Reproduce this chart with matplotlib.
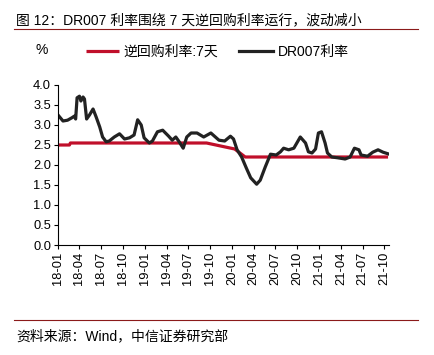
import pandas as pd
import numpy as np
import matplotlib.pyplot as plt
from matplotlib.lines import Line2D

plt.rcParams['font.family'] = ['Liberation Sans', 'Noto Sans CJK SC', 'DejaVu Sans']

# DR007 rate (%)
dr_dates = [
    "2018-01-01", "2018-01-22", "2018-02-10", "2018-02-28", "2018-03-10", "2018-03-16",
    "2018-03-22", "2018-04-01", "2018-04-07", "2018-04-16", "2018-04-22", "2018-05-01",
    "2018-05-13", "2018-05-28", "2018-06-10", "2018-06-25", "2018-07-07", "2018-07-22",
    "2018-08-04", "2018-08-25", "2018-09-16", "2018-10-07", "2018-10-28", "2018-11-16",
    "2018-12-01", "2018-12-16", "2018-12-28", "2019-01-19", "2019-02-01", "2019-02-22",
    "2019-03-16", "2019-04-10", "2019-04-25", "2019-05-10", "2019-05-22", "2019-06-10",
    "2019-06-25", "2019-07-13", "2019-08-07", "2019-09-04", "2019-10-04", "2019-11-07",
    "2019-12-01", "2019-12-25", "2020-01-07", "2020-01-22", "2020-02-10", "2020-03-01",
    "2020-03-19", "2020-04-13", "2020-04-28", "2020-05-19", "2020-06-10", "2020-07-04",
    "2020-07-22", "2020-08-04", "2020-08-25", "2020-09-16", "2020-10-13", "2020-11-04",
    "2020-11-16", "2020-12-01", "2020-12-16", "2020-12-28", "2021-01-10", "2021-01-25",
    "2021-02-04", "2021-02-22", "2021-03-19", "2021-04-19", "2021-05-10", "2021-05-28",
    "2021-06-16", "2021-06-25", "2021-07-22", "2021-08-13", "2021-09-04", "2021-09-25",
    "2021-10-16",
]
dr_values = [
    3.25, 3.10, 3.12, 3.18, 3.22, 3.15,
    3.68, 3.72, 3.60, 3.70, 3.65, 3.15,
    3.25, 3.40, 3.20, 2.95, 2.70, 2.58,
    2.60, 2.70, 2.78, 2.65, 2.68, 2.75,
    3.13, 3.00, 2.68, 2.55, 2.60, 2.83,
    2.87, 2.72, 2.62, 2.70, 2.60, 2.42,
    2.70, 2.80, 2.80, 2.70, 2.80, 2.62,
    2.60, 2.72, 2.65, 2.38, 2.20, 1.92,
    1.68, 1.52, 1.62, 1.95, 2.27, 2.25,
    2.33, 2.42, 2.38, 2.42, 2.70, 2.55,
    2.33, 2.30, 2.40, 2.80, 2.83, 2.55,
    2.30, 2.20, 2.18, 2.15, 2.20, 2.42,
    2.38, 2.25, 2.22, 2.32, 2.38, 2.32,
    2.28,
]

# 7-day reverse repo rate (%)
rr_dates = ["2018-01-01", "2018-02-18", "2018-02-22", "2019-09-16", "2019-11-10",
            "2020-01-12", "2020-02-25", "2021-10-16"]
rr_values = [2.50, 2.50, 2.55, 2.55, 2.48, 2.40, 2.20, 2.20]

tick_dates = pd.date_range("2018-01-01", "2021-10-01", freq="3MS")
tick_labels = [d.strftime("%y-%m") for d in tick_dates]

title = "图 12：DR007 利率围绕 7 天逆回购利率运行，波动减小"
source = "资料来源：Wind，中信证券研究部"

W, H = 434, 355
fig = plt.figure(figsize=(W / 100, H / 100), dpi=100)
ax = fig.add_axes([58 / W, 1 - 245 / H, (389 - 58) / W, 160 / H])

red = "#C00F2A"
black = "#222222"
ax.plot(pd.to_datetime(rr_dates), rr_values, color=red, lw=2.3, label="逆回购利率:7天",
        solid_capstyle="butt")
ax.plot(pd.to_datetime(dr_dates), dr_values, color=black, lw=2.3, label="DR007利率",
        solid_joinstyle="round")

ax.set_ylim(0, 4.0)
ax.set_yticks(np.arange(0, 4.01, 0.5))
ax.set_yticklabels([f"{v:.1f}" for v in np.arange(0, 4.01, 0.5)])
ax.set_xlim(pd.Timestamp("2018-01-01"), pd.Timestamp("2021-10-20"))
ax.set_xticks(tick_dates)
ax.set_xticklabels(tick_labels, rotation=90)

for s in ["top", "right"]:
    ax.spines[s].set_visible(False)
for s in ["left", "bottom"]:
    ax.spines[s].set_color("black")
    ax.spines[s].set_linewidth(0.8)
ax.tick_params(axis="both", labelsize=9.3, color="black", length=3, width=0.8, pad=2)

ax.legend(loc="center left", bbox_to_anchor=(73 / W, 1 - 52 / H), bbox_transform=fig.transFigure,
          ncol=2, frameon=False, fontsize=10, handlelength=2.4, handletextpad=0.35,
          columnspacing=1.5)

fig.text(36 / W, 1 - 50 / H, "%", fontsize=10, va="center", ha="left")
fig.text(16 / W, 1 - 20 / H, title, fontsize=10, va="center", ha="left")
fig.add_artist(Line2D([14 / W, 418 / W], [1 - 29 / H, 1 - 29 / H], color="#8B1A1A", lw=0.8))
fig.add_artist(Line2D([14 / W, 418 / W], [1 - 320 / H, 1 - 320 / H], color="#8B1A1A", lw=0.8))
fig.text(16 / W, 1 - 336 / H, source, fontsize=10, va="center", ha="left")

fig.savefig("out.png", dpi=100)
